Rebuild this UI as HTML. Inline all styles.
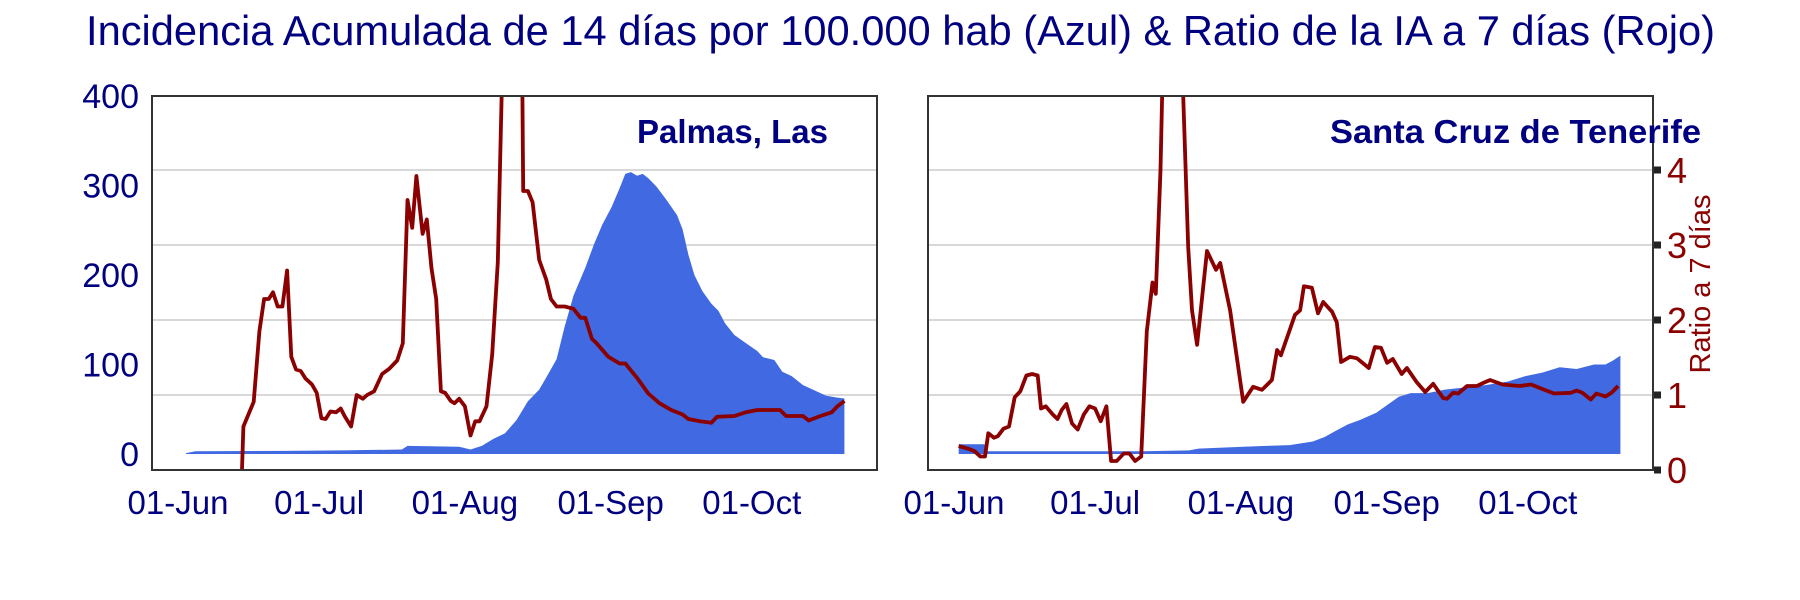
<!DOCTYPE html>
<html><head><meta charset="utf-8"><style>
html,body{margin:0;padding:0;background:#fff;}
svg{display:block;font-family:"Liberation Sans",Arial,sans-serif;}
</style></head><body>
<svg id="chart" width="1800" height="600" viewBox="0 0 1800 600">
<defs>
<clipPath id="clipL"><rect x="152" y="96" width="725" height="374"/></clipPath>
<clipPath id="clipR"><rect x="928" y="96" width="725" height="374"/></clipPath>
</defs>
<text x="86" y="45" font-size="42" fill="#000080" textLength="1629" lengthAdjust="spacingAndGlyphs">Incidencia Acumulada de 14 días por 100.000 hab (Azul) &amp; Ratio de la IA a 7 días (Rojo)</text>
<g id="gL"></g>
<g id="gR"></g>
</svg>
<script>
// Day index since 01-Jun
const xTickLabels = ["01-Jun","01-Jul","01-Aug","01-Sep","01-Oct"];
const xTickDays = [0,30,61,92,122];
const yTickLabels = ["0","100","200","300","400"];
const yTickValues = [0,100,200,300,400];
const ratioTicks = [0,1,2,3,4];

const palmasBlueDays = [1.7,3.7,23,35,47.6,48.8,59.8,62.2,64.6,67.1,69.5,72,74.4,76.8,78.8,80.5,82.2,84.1,86.6,88.5,90.2,92.2,93.9,95.1,96.3,97.6,98.8,100,101.7,103.7,106.1,107.3,108.5,109.8,111.5,113.4,114.9,116.3,118.3,120.7,123.2,124.4,126.8,128.5,130.5,132.9,135.4,137.8,140.2,141.7];
const palmasBlueVals = [1,3,3.5,4,5,9,8,5,9,17,23,38,59,72,90,106,142,177,208,235,256,276,297,313,315,311,313,308,299,285,267,251,223,200,182,168,160,146,133,124,115,108,105,92,87,77,71,65,63,62];

const palmasRedDays = [13.5,13.9,16.1,17.3,18.3,19.3,20.2,21.2,22.2,23.2,24.1,25.1,26.1,27.1,28.5,29.5,30.5,31.4,32.4,33.6,34.6,35.5,36.8,38,39.3,40.2,41.7,43.4,44.9,46.6,47.8,48.8,49.8,50.7,52,52.9,53.9,54.9,55.9,56.8,58,58.8,59.8,61,62.2,63.2,64.1,65.6,66.8,68,69.2,73.1,73.4,74.4,75.4,76.8,78.3,79.3,80.5,82.2,84.1,85.6,86.6,88,89,91.5,93.9,95.1,97.6,100,102.4,104.9,107.3,108.5,111,113.4,114.6,118.3,120.7,123.2,125.6,128,129.3,131,132.9,134.1,136.6,139,140.2,141.7];
const palmasRedVals = [-0.2,0.58,0.91,1.85,2.28,2.28,2.37,2.18,2.18,2.66,1.51,1.34,1.32,1.22,1.14,1.03,0.69,0.68,0.78,0.77,0.82,0.71,0.58,1.0,0.95,1.0,1.05,1.28,1.35,1.46,1.69,3.6,3.23,3.92,3.15,3.34,2.69,2.28,1.05,1.03,0.92,0.89,0.95,0.85,0.46,0.65,0.65,0.85,1.54,2.77,6,6,3.72,3.72,3.57,2.8,2.54,2.28,2.18,2.18,2.15,2.03,2.03,1.75,1.69,1.51,1.42,1.42,1.23,1.02,0.89,0.8,0.74,0.68,0.65,0.63,0.71,0.72,0.77,0.8,0.8,0.8,0.72,0.72,0.72,0.66,0.72,0.77,0.85,0.92];

const tenBlueDays = [1,6.5,7,20,40,50,52,61.5,66.5,71.4,76.3,78.8,81.2,83.7,86.3,89.8,92.2,94.6,97.1,100.7,104.4,108,113,117.8,121.5,125.1,128.8,132.4,136.1,138.5,140,141.7];
const tenBlueVals = [11,11,3,3,3,4,6,8,9,10,14,19,26,33,38,46,55,64,68,68,72,74,77,81,87,91,97,95,100,100,104,110];

const tenRedDays = [1,3.2,4.4,5.6,6.6,7.3,8.5,9.3,10.5,11.7,12.9,14.1,15.4,16.6,17.8,18.5,19.5,21,22,22.9,23.9,25.1,26.3,27.6,28.8,30,31.2,32.4,33.4,34.6,36.1,37.3,38.5,39.8,41,42.2,42.9,43.9,44.6,48.2,49.8,50.6,51.7,53.8,55.7,56.6,58.7,61.5,63.6,65.5,67.6,68.7,69.5,71.4,72.5,73.6,74.4,76.1,77.4,78.5,80.4,81.4,82.3,84.2,85.7,88.2,89.5,90.8,92.1,93.3,95.2,96.3,98.4,100.2,101.9,104,104.8,106.1,107.2,109.1,111.2,112.5,114,116.6,120.2,122.7,125.1,127.6,131.2,132.4,133.6,135.4,136.6,138.5,139.8,141.2];
const tenRedVals = [0.32,0.28,0.25,0.18,0.18,0.49,0.43,0.45,0.55,0.58,0.97,1.05,1.26,1.28,1.26,0.82,0.85,0.74,0.68,0.8,0.88,0.62,0.54,0.74,0.85,0.82,0.65,0.85,0.12,0.12,0.22,0.22,0.12,0.18,1.85,2.5,2.35,4.0,6,6,2.97,2.13,1.67,2.92,2.67,2.76,2.13,0.91,1.11,1.07,1.2,1.6,1.53,1.87,2.07,2.13,2.45,2.43,2.09,2.24,2.11,1.97,1.44,1.51,1.49,1.36,1.64,1.63,1.43,1.48,1.28,1.36,1.17,1.04,1.15,0.96,0.95,1.03,1.02,1.12,1.12,1.16,1.2,1.14,1.12,1.14,1.08,1.02,1.03,1.06,1.03,0.94,1.02,0.98,1.03,1.12];

const NS = "http://www.w3.org/2000/svg";
const TOP = 96, BOT = 470, PXDAY = 4.703;
function yVal(v){ return 454 - v * 0.895; }
function yRatio(r){ return BOT - r * 75; }
function mk(tag, attrs, parent){
  const e = document.createElementNS(NS, tag);
  for (const k in attrs) e.setAttribute(k, attrs[k]);
  parent.appendChild(e);
  return e;
}

function drawPanel(g, left, clipId, label, labelX, labelEnd, blueDays, blueVals, redDays, redVals, isRight){
  const right = left + 725;
  const xDay = d => left + 26 + d * PXDAY;
  ratioTicks.forEach(r => {
    if (r === 0) return;
    const l = mk("line", {x1:left, x2:right, y1:yRatio(r), y2:yRatio(r), stroke:"#cccccc", "stroke-width":1.5}, g);
    
    
  });
  let d = "M" + xDay(blueDays[0]) + "," + yVal(0);
  blueDays.forEach((dd, i) => { d += " L" + xDay(dd).toFixed(1) + "," + yVal(blueVals[i]).toFixed(1); });
  d += " L" + xDay(blueDays[blueDays.length-1]) + "," + yVal(0) + " Z";
  const area = mk("path", {d:d, fill:"#4169E1", "clip-path":"url(#"+clipId+")"}, g);
  
  
  let p = "";
  redDays.forEach((dd, i) => { p += (i ? " L" : "M") + xDay(dd).toFixed(1) + "," + yRatio(redVals[i]).toFixed(1); });
  const line = mk("path", {d:p, fill:"none", stroke:"#8B0000", "stroke-width":3.8, "stroke-linejoin":"round", "clip-path":"url(#"+clipId+")"}, g);
  
  
  const fr = mk("rect", {x:left, y:TOP, width:725, height:BOT-TOP, fill:"none", stroke:"#333", "stroke-width":2}, g);
  
  
  xTickDays.forEach((dd, i) => {
    const t = mk("text", {x:xDay(dd), y:514, "font-size":33, fill:"#000080", "text-anchor":"middle"}, g);
    t.textContent = xTickLabels[i];
    
    
  });
  const pl = mk("text", {x:labelX, y:143, "font-size":33, "font-weight":"bold", fill:"#000080", textLength:labelEnd-labelX, lengthAdjust:"spacingAndGlyphs"}, g);
  pl.textContent = label;
  
  
  if (!isRight) {
    yTickValues.forEach((v, i) => {
      const t = mk("text", {x:139, y:yVal(v)+12, "font-size":34, fill:"#000080", "text-anchor":"end"}, g);
      t.textContent = yTickLabels[i];
      
      
    });
  } else {
    ratioTicks.forEach(r => {
      const sq = mk("rect", {x:1654, y:yRatio(r)-3.5, width:7, height:7, fill:"#222"}, g);
      
      
      const t = mk("text", {x:1667, y:yRatio(r)+13, "font-size":36, fill:"#8B0000"}, g);
      t.textContent = String(r);
      
      
    });
    const at = mk("text", {x:0, y:0, "font-size":29, fill:"#8B0000", "text-anchor":"middle", transform:"translate(1710,284) rotate(-90)"}, g);
    at.textContent = "Ratio a 7 días";
    
    
  }
}
drawPanel(document.getElementById("gL"), 152, "clipL", "Palmas, Las", 637, 828, palmasBlueDays, palmasBlueVals, palmasRedDays, palmasRedVals, false);
drawPanel(document.getElementById("gR"), 928, "clipR", "Santa Cruz de Tenerife", 1330, 1701, tenBlueDays, tenBlueVals, tenRedDays, tenRedVals, true);
</script>
</body></html>
